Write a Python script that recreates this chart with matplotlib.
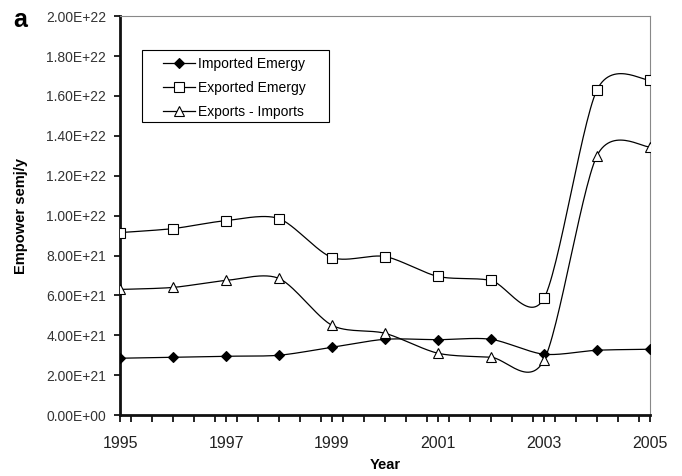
import numpy as np
import matplotlib.pyplot as plt
from matplotlib.patches import Rectangle
from matplotlib.ticker import FixedLocator, MultipleLocator

plt.rcParams['font.family'] = ['Liberation Sans', 'DejaVu Sans']

years = [1995, 1996, 1997, 1998, 1999, 2000, 2001, 2002, 2003, 2004, 2005]
imported = [2.85e21, 2.9e21, 2.95e21, 3.0e21, 3.4e21, 3.8e21, 3.78e21, 3.8e21, 3.05e21, 3.25e21, 3.3e21]
exported = [9.15e21, 9.35e21, 9.75e21, 9.85e21, 7.9e21, 7.95e21, 6.95e21, 6.75e21, 5.85e21, 1.63e22, 1.68e22]
net = [6.3e21, 6.4e21, 6.75e21, 6.85e21, 4.5e21, 4.1e21, 3.1e21, 2.9e21, 2.75e21, 1.30e22, 1.345e22]


def smooth(x, y, n=30, k=0.14):
    # bezier curve through the points, like excel's smoothed lines
    x = np.asarray(x, float)
    y = np.asarray(y, float)
    px = np.concatenate([[x[0]], x, [x[-1]]])
    py = np.concatenate([[y[0]], y, [y[-1]]])
    xs, ys = [], []
    t = np.linspace(0, 1, n)
    for i in range(1, len(px) - 2):
        p0, p1, p2, p3 = px[i - 1], px[i], px[i + 1], px[i + 2]
        q0, q1, q2, q3 = py[i - 1], py[i], py[i + 1], py[i + 2]
        c1x, c1y = p1 + (p2 - p0) * k, q1 + (q2 - q0) * k
        c2x, c2y = p2 - (p3 - p1) * k, q2 - (q3 - q1) * k
        bx = (1 - t)**3 * p1 + 3 * (1 - t)**2 * t * c1x + 3 * (1 - t) * t**2 * c2x + t**3 * p2
        by = (1 - t)**3 * q1 + 3 * (1 - t)**2 * t * c1y + 3 * (1 - t) * t**2 * c2y + t**3 * q2
        xs.append(bx)
        ys.append(by)
    return np.concatenate(xs), np.concatenate(ys)


fig = plt.figure(figsize=(6.82, 4.76), dpi=100)
ax = fig.add_axes([0.176, 0.128, 0.777, 0.838])

series = [
    (imported, 'D', 'black', 5, "Imported Emergy"),
    (exported, 's', 'white', 7, "Exported Emergy"),
    (net, '^', 'white', 7, "Exports - Imports"),
]
for vals, mk, fc, ms, lab in series:
    sx, sy = smooth(years, vals)
    ax.plot(sx, sy, color='black', lw=0.9, zorder=2)
    ax.plot(years, vals, linestyle='none', marker=mk, mfc=fc, mec='black',
            ms=ms, mew=0.8, zorder=3)
    ax.plot([], [], color='black', lw=0.9, marker=mk, mfc=fc, mec='black',
            ms=ms, mew=0.8, label=lab)

ax.set_xlim(1995, 2005)
ax.set_ylim(0, 2e22)
ax.xaxis.set_major_locator(FixedLocator([1995, 1997, 1999, 2001, 2003, 2005]))
ax.xaxis.set_minor_locator(MultipleLocator(0.4))
ax.yaxis.set_major_locator(MultipleLocator(2e21))
ylabels = []
for v in ax.get_yticks():
    if v > 0:
        e = int(np.floor(np.log10(v) + 1e-9))
        ylabels.append("%.2fE+%02d" % (v / 10**e, e))
    else:
        ylabels.append("0.00E+00")
ax.set_yticklabels(ylabels)

ax.tick_params(axis='x', which='both', direction='out', length=5, width=1.2,
               labelsize=11.5, pad=10, color='black')
ax.tick_params(axis='y', direction='out', length=4, width=1.2, labelsize=10,
               labelcolor='#333333', pad=6)
ax.tick_params(axis='x', labelcolor='#222222')

for s in ['left', 'bottom']:
    ax.spines[s].set_linewidth(2)
    ax.spines[s].set_color('#111111')
for s in ['top', 'right']:
    ax.spines[s].set_linewidth(0.8)
    ax.spines[s].set_color('#888888')

ax.set_xlabel("Year", fontsize=10.5, fontweight='bold', labelpad=5)
ax.set_ylabel("Empower semj/y", fontsize=10.5, fontweight='bold', labelpad=13)

# legend box drawn separately, excel style with wide padding
ax.add_patch(Rectangle((0.0415, 0.734), 0.353, 0.181, transform=ax.transAxes,
                       fill=True, facecolor='white', edgecolor='black', lw=0.8, zorder=4))
leg = ax.legend(loc='upper left', bbox_to_anchor=(0.081, 0.897), fontsize=10,
                frameon=False, borderpad=0, borderaxespad=0,
                handlelength=2.3, labelspacing=0.72, handletextpad=0.25)
leg.set_zorder(5)

fig.text(0.02, 0.957, "a", fontsize=18, fontweight='bold', va='center')

fig.savefig("out.png", dpi=100)
